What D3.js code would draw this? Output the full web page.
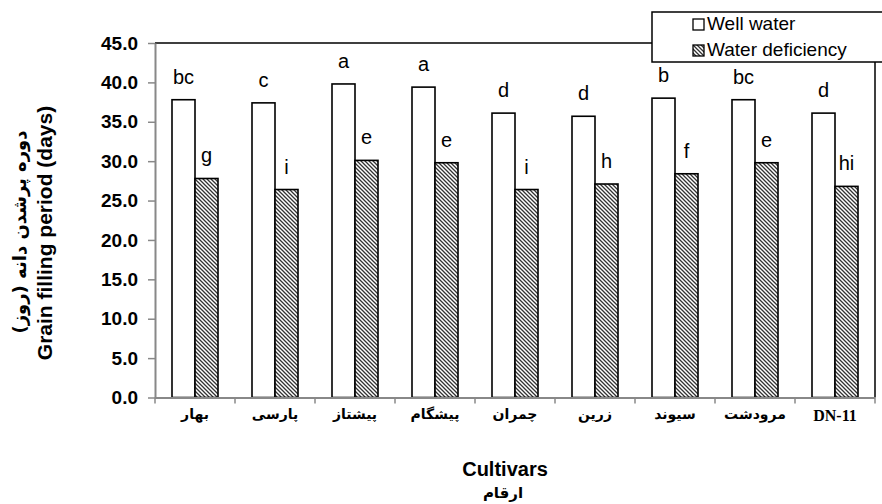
<!DOCTYPE html>
<html><head><meta charset="utf-8">
<script src="https://cdn.jsdelivr.net/npm/d3@7"></script>
<style>body{margin:0;background:#fff}svg{display:block}</style>
</head><body>
<script>
const categories = ['بهار','پارسی','پیشتاز','پیشگام','چمران','زرین','سیوند','مرودشت','DN-11'];
const wellWater = [37.8, 37.4, 39.8, 39.4, 36.1, 35.7, 38.0, 37.8, 36.1];
const deficiency = [27.8, 26.4, 30.1, 29.8, 26.4, 27.1, 28.4, 29.8, 26.8];
const wellLetters = ['bc','c','a','a','d','d','b','bc','d'];
const defLetters = ['g','i','e','e','i','h','f','e','hi'];
const seriesNames = ['Well water','Water deficiency'];
const yTicks = [0,5,10,15,20,25,30,35,40,45];

const W = 882, H = 504;
const L = 155, R = 875, T = 43, B = 397.5;
const SANS = 'Liberation Sans, Arial, sans-serif';
const svg = d3.select('body').append('svg').attr('width', W).attr('height', H);
const defs = svg.append('defs');
const pat = defs.append('pattern').attr('id','hatch').attr('patternUnits','userSpaceOnUse')
  .attr('width',4).attr('height',4);
pat.append('rect').attr('width',4).attr('height',4).attr('fill','#fff');
pat.append('path').attr('d','M-1,-1 L5,5 M-1,3 L1,5 M3,-1 L5,1')
  .attr('stroke','#333').attr('stroke-width',1.3);

const x = d3.scaleBand().domain(categories).range([L, R]).padding(0);
const xs = d3.scaleBand().domain(seriesNames).range([17, 63]).padding(0);
const y = d3.scaleLinear().domain([0,45]).range([B, T]);
const fills = ['#fff','url(#hatch)'];

// plot frame top & right
svg.append('path').attr('d',`M${L},${T}H${R}V${B}`).attr('fill','none').attr('stroke','#000').attr('stroke-width',1.5);

// y axis
const yAx = svg.append('g').attr('transform',`translate(${L},0)`)
  .call(d3.axisLeft(y).tickValues(yTicks).tickFormat(d3.format('.1f')).tickSize(7).tickSizeOuter(0));
yAx.select('.domain').attr('stroke','#888').attr('stroke-width',2);
yAx.selectAll('.tick line').attr('stroke','#888').attr('stroke-width',1.5);
yAx.selectAll('.tick text').attr('font-family',SANS).attr('font-weight','bold')
  .attr('font-size',19).attr('fill','#000').attr('x',-17);

// bars
const data = categories.map((c,i)=>({c, vals:[wellWater[i], deficiency[i]], lets:[wellLetters[i], defLetters[i]]}));
const g = svg.append('g');
data.forEach(d=>{
  d.vals.forEach((v,j)=>{
    const bx = x(d.c) + xs(seriesNames[j]);
    g.append('rect').attr('x',bx).attr('y',y(v)).attr('width',xs.bandwidth()).attr('height',y(0)-y(v))
      .attr('fill',fills[j]).attr('stroke','#000').attr('stroke-width',1.6);
    g.append('text').attr('x',bx+xs.bandwidth()/2).attr('y',y(v)-16).attr('text-anchor','middle')
      .attr('font-family',SANS).attr('font-size',20).text(d.lets[j]);
  });
});

// x axis
const xa = svg.append('g');
xa.append('line').attr('x1',L).attr('x2',R).attr('y1',B+0.5).attr('y2',B+0.5).attr('stroke','#888').attr('stroke-width',2);
categories.concat([null]).forEach((c,i)=>{
  const tx = c===null ? R : x(c);
  xa.append('line').attr('x1',tx).attr('x2',tx).attr('y1',B).attr('y2',B+6).attr('stroke','#888').attr('stroke-width',1.5);
});
categories.forEach(c=>{
  const isLatin = /^[A-Za-z]/.test(c);
  xa.append('text').attr('x',x(c)+x.bandwidth()/2).attr('y',isLatin?421:419).attr('text-anchor','middle')
    .attr('font-family', isLatin ? 'Liberation Serif, Times New Roman, serif' : 'DejaVu Sans, sans-serif')
    .attr('font-weight','bold').attr('font-size', isLatin ? 16 : 14).attr('direction', isLatin?'ltr':'rtl')
    .text(c);
});

// axis titles
svg.append('text').attr('x',505).attr('y',476).attr('text-anchor','middle')
  .attr('font-family',SANS).attr('font-weight','bold').attr('font-size',20).text('Cultivars');
svg.append('text').attr('x',503).attr('y',498).attr('text-anchor','middle').attr('direction','rtl')
  .attr('font-family','DejaVu Sans, sans-serif').attr('font-weight','bold').attr('font-size',15).text('ارقام');

svg.append('text').attr('transform','translate(52,233) rotate(-90)').attr('text-anchor','middle')
  .attr('font-family',SANS).attr('font-weight','bold').attr('font-size',21)
  .text('Grain filling period (days)');
svg.append('text').attr('transform','translate(26,232) rotate(-90)').attr('text-anchor','middle').attr('direction','rtl')
  .attr('font-family','DejaVu Sans, sans-serif').attr('font-weight','bold').attr('font-size',18)
  .text('دوره پرشدن دانه (روز)');

// legend
const lg = svg.append('g');
lg.append('rect').attr('x',652).attr('y',12).attr('width',240).attr('height',50).attr('fill','#fff').attr('stroke','#000').attr('stroke-width',1.5);
seriesNames.forEach((s,i)=>{
  const cy = 19 + i*26;
  lg.append('rect').attr('x',693).attr('y',cy).attr('width',11).attr('height',11)
    .attr('fill',fills[i]).attr('stroke','#000').attr('stroke-width',1.3);
  lg.append('text').attr('x',707).attr('y',cy+11).attr('font-family',SANS)
    .attr('font-size',19).text(s);
});
</script>
</body></html>
